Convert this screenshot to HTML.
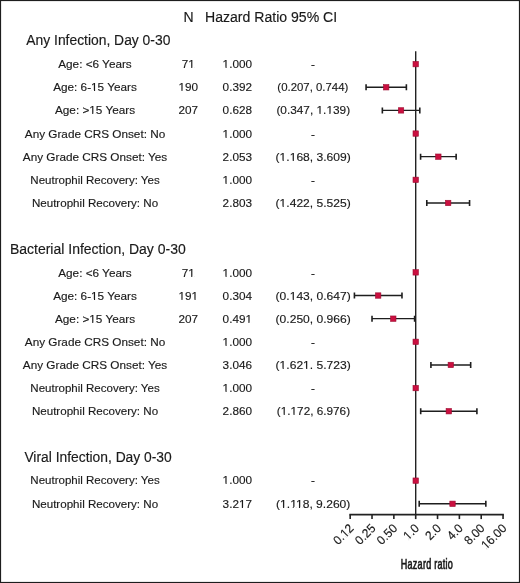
<!DOCTYPE html>
<html><head><meta charset="utf-8"><style>
html,body{margin:0;padding:0;background:#fff;}
body{width:520px;height:583px;position:relative;overflow:hidden;}
svg{will-change:transform;}
svg text{font-family:"Liberation Sans",sans-serif;fill:#1a1a1a;stroke:#1a1a1a;stroke-width:0.15px;}
</style></head><body>

<svg width="520" height="583" viewBox="0 0 520 583" style="position:absolute;left:0;top:0">
<rect x="0.5" y="0.5" width="519" height="582" fill="#fff" stroke="#1e1e1e" stroke-width="1.2"></rect>
<text x="188.60000000000002" y="21.9" font-size="14" text-anchor="middle">N</text>
<text x="205.0" y="21.9" font-size="14" textLength="132.16" lengthAdjust="spacingAndGlyphs">Hazard Ratio 95% CI</text>
<path d="M415.70 51.3V514.6" stroke="#222" stroke-width="1.4" fill="none"></path>
<text x="26.3" y="45.2" font-size="14" textLength="144.07" lengthAdjust="spacingAndGlyphs">Any Infection, Day 0-30</text>
<text x="95" y="68.00" font-size="11.75" text-anchor="middle">Age: &lt;6 Years</text>
<text x="188.3" y="68.00" font-size="11.75" text-anchor="middle">71</text><rect x="192.34" y="66.90" width="2.48" height="1.56" fill="#fff"></rect><rect x="188.52" y="66.90" width="2.68" height="1.56" fill="#fff"></rect>
<text x="237.3" y="68.00" font-size="11.75" text-anchor="middle">1.000</text><rect x="226.64" y="66.90" width="2.48" height="1.56" fill="#fff"></rect><rect x="222.83" y="66.90" width="2.68" height="1.56" fill="#fff"></rect>
<text x="313" y="68.00" font-size="11.75" text-anchor="middle">-</text>
<text x="95" y="91.00" font-size="11.75" text-anchor="middle">Age: 6-15 Years</text><rect x="95.11" y="89.90" width="2.48" height="1.56" fill="#fff"></rect><rect x="91.29" y="89.90" width="2.68" height="1.56" fill="#fff"></rect>
<text x="188.3" y="91.00" font-size="11.75" text-anchor="middle">190</text><rect x="182.54" y="89.90" width="2.48" height="1.56" fill="#fff"></rect><rect x="178.73" y="89.90" width="2.68" height="1.56" fill="#fff"></rect>
<text x="237.3" y="91.00" font-size="11.75" text-anchor="middle">0.392</text>
<text x="312.85" y="91.00" font-size="11.75" text-anchor="middle" textLength="71.02" lengthAdjust="spacingAndGlyphs">(0.207, 0.744)</text>
<path d="M366.07 87.27H406.38" stroke="#1e1e1e" stroke-width="1.35" fill="none"></path>
<path d="M366.07 84.27V90.27M406.38 84.27V90.27" stroke="#1e1e1e" stroke-width="1.6" fill="none"></path>
<text x="95" y="114.00" font-size="11.75" text-anchor="middle">Age: &gt;15 Years</text><rect x="93.32" y="112.90" width="2.48" height="1.56" fill="#fff"></rect><rect x="89.50" y="112.90" width="2.68" height="1.56" fill="#fff"></rect>
<text x="188.3" y="114.00" font-size="11.75" text-anchor="middle">207</text>
<text x="237.3" y="114.00" font-size="11.75" text-anchor="middle">0.628</text>
<text x="313.25" y="114.00" font-size="11.75" text-anchor="middle" textLength="73.67" lengthAdjust="spacingAndGlyphs">(0.347, 1.139)</text><rect x="330.47" y="112.90" width="2.49" height="1.56" fill="#fff"></rect><rect x="326.63" y="112.90" width="2.70" height="1.56" fill="#fff"></rect><rect x="320.60" y="112.90" width="2.49" height="1.56" fill="#fff"></rect><rect x="316.76" y="112.90" width="2.70" height="1.56" fill="#fff"></rect>
<path d="M382.35 110.41H419.80" stroke="#1e1e1e" stroke-width="1.35" fill="none"></path>
<path d="M382.35 107.41V113.41M419.80 107.41V113.41" stroke="#1e1e1e" stroke-width="1.6" fill="none"></path>
<text x="95" y="138.00" font-size="11.75" text-anchor="middle">Any Grade CRS Onset: No</text>
<text x="237.3" y="138.00" font-size="11.75" text-anchor="middle">1.000</text><rect x="226.64" y="136.90" width="2.48" height="1.56" fill="#fff"></rect><rect x="222.83" y="136.90" width="2.68" height="1.56" fill="#fff"></rect>
<text x="313" y="138.00" font-size="11.75" text-anchor="middle">-</text>
<text x="95" y="161.00" font-size="11.75" text-anchor="middle">Any Grade CRS Onset: Yes</text>
<text x="237.3" y="161.00" font-size="11.75" text-anchor="middle">2.053</text>
<text x="313.20" y="161.00" font-size="11.75" text-anchor="middle" textLength="75.20" lengthAdjust="spacingAndGlyphs">(1.168, 3.609)</text><rect x="293.84" y="159.90" width="2.55" height="1.56" fill="#fff"></rect><rect x="289.92" y="159.90" width="2.76" height="1.56" fill="#fff"></rect><rect x="283.77" y="159.90" width="2.55" height="1.56" fill="#fff"></rect><rect x="279.85" y="159.90" width="2.76" height="1.56" fill="#fff"></rect>
<path d="M420.59 156.69H456.14" stroke="#1e1e1e" stroke-width="1.35" fill="none"></path>
<path d="M420.59 153.69V159.69M456.14 153.69V159.69" stroke="#1e1e1e" stroke-width="1.6" fill="none"></path>
<text x="95" y="184.00" font-size="11.75" text-anchor="middle" textLength="129.30" lengthAdjust="spacingAndGlyphs">Neutrophil Recovery: Yes</text>
<text x="237.3" y="184.00" font-size="11.75" text-anchor="middle">1.000</text><rect x="226.64" y="182.90" width="2.48" height="1.56" fill="#fff"></rect><rect x="222.83" y="182.90" width="2.68" height="1.56" fill="#fff"></rect>
<text x="313" y="184.00" font-size="11.75" text-anchor="middle">-</text>
<text x="95" y="207.00" font-size="11.75" text-anchor="middle" textLength="126.21" lengthAdjust="spacingAndGlyphs">Neutrophil Recovery: No</text>
<text x="237.3" y="207.00" font-size="11.75" text-anchor="middle">2.803</text>
<text x="313.20" y="207.00" font-size="11.75" text-anchor="middle" textLength="75.20" lengthAdjust="spacingAndGlyphs">(1.422, 5.525)</text><rect x="283.77" y="205.90" width="2.55" height="1.56" fill="#fff"></rect><rect x="279.85" y="205.90" width="2.76" height="1.56" fill="#fff"></rect>
<path d="M426.79 202.97H469.56" stroke="#1e1e1e" stroke-width="1.35" fill="none"></path>
<path d="M426.79 199.97V205.97M469.56 199.97V205.97" stroke="#1e1e1e" stroke-width="1.6" fill="none"></path>
<text x="9.9" y="253.8" font-size="14" textLength="175.87" lengthAdjust="spacingAndGlyphs">Bacterial Infection, Day 0-30</text>
<text x="95" y="277.00" font-size="11.75" text-anchor="middle">Age: &lt;6 Years</text>
<text x="188.3" y="277.00" font-size="11.75" text-anchor="middle">71</text><rect x="192.34" y="275.90" width="2.48" height="1.56" fill="#fff"></rect><rect x="188.52" y="275.90" width="2.68" height="1.56" fill="#fff"></rect>
<text x="237.3" y="277.00" font-size="11.75" text-anchor="middle">1.000</text><rect x="226.64" y="275.90" width="2.48" height="1.56" fill="#fff"></rect><rect x="222.83" y="275.90" width="2.68" height="1.56" fill="#fff"></rect>
<text x="313" y="277.00" font-size="11.75" text-anchor="middle">-</text>
<text x="95" y="300.00" font-size="11.75" text-anchor="middle">Age: 6-15 Years</text><rect x="95.11" y="298.90" width="2.48" height="1.56" fill="#fff"></rect><rect x="91.29" y="298.90" width="2.68" height="1.56" fill="#fff"></rect>
<text x="188.3" y="300.00" font-size="11.75" text-anchor="middle">191</text><rect x="195.60" y="298.90" width="2.48" height="1.56" fill="#fff"></rect><rect x="191.79" y="298.90" width="2.68" height="1.56" fill="#fff"></rect><rect x="182.54" y="298.90" width="2.48" height="1.56" fill="#fff"></rect><rect x="178.73" y="298.90" width="2.68" height="1.56" fill="#fff"></rect>
<text x="237.3" y="300.00" font-size="11.75" text-anchor="middle">0.304</text>
<text x="313.20" y="300.00" font-size="11.75" text-anchor="middle" textLength="75.20" lengthAdjust="spacingAndGlyphs">(0.143, 0.647)</text><rect x="293.84" y="298.90" width="2.55" height="1.56" fill="#fff"></rect><rect x="289.92" y="298.90" width="2.76" height="1.56" fill="#fff"></rect>
<path d="M354.42 295.53H401.98" stroke="#1e1e1e" stroke-width="1.35" fill="none"></path>
<path d="M354.42 292.53V298.53M401.98 292.53V298.53" stroke="#1e1e1e" stroke-width="1.6" fill="none"></path>
<text x="95" y="323.00" font-size="11.75" text-anchor="middle">Age: &gt;15 Years</text><rect x="93.32" y="321.90" width="2.48" height="1.56" fill="#fff"></rect><rect x="89.50" y="321.90" width="2.68" height="1.56" fill="#fff"></rect>
<text x="188.3" y="323.00" font-size="11.75" text-anchor="middle">207</text>
<text x="237.3" y="323.00" font-size="11.75" text-anchor="middle">0.491</text><rect x="249.50" y="321.90" width="2.48" height="1.56" fill="#fff"></rect><rect x="245.69" y="321.90" width="2.68" height="1.56" fill="#fff"></rect>
<text x="313.20" y="323.00" font-size="11.75" text-anchor="middle" textLength="75.20" lengthAdjust="spacingAndGlyphs">(0.250, 0.966)</text>
<path d="M372.02 318.67H414.61" stroke="#1e1e1e" stroke-width="1.35" fill="none"></path>
<path d="M372.02 315.67V321.67M414.61 315.67V321.67" stroke="#1e1e1e" stroke-width="1.6" fill="none"></path>
<text x="95" y="346.00" font-size="11.75" text-anchor="middle">Any Grade CRS Onset: No</text>
<text x="237.3" y="346.00" font-size="11.75" text-anchor="middle">1.000</text><rect x="226.64" y="344.90" width="2.48" height="1.56" fill="#fff"></rect><rect x="222.83" y="344.90" width="2.68" height="1.56" fill="#fff"></rect>
<text x="313" y="346.00" font-size="11.75" text-anchor="middle">-</text>
<text x="95" y="369.00" font-size="11.75" text-anchor="middle">Any Grade CRS Onset: Yes</text>
<text x="237.3" y="369.00" font-size="11.75" text-anchor="middle">3.046</text>
<text x="313.20" y="369.00" font-size="11.75" text-anchor="middle" textLength="75.20" lengthAdjust="spacingAndGlyphs">(1.621. 5.723)</text><rect x="307.28" y="367.90" width="2.55" height="1.56" fill="#fff"></rect><rect x="303.36" y="367.90" width="2.76" height="1.56" fill="#fff"></rect><rect x="283.77" y="367.90" width="2.55" height="1.56" fill="#fff"></rect><rect x="279.85" y="367.90" width="2.76" height="1.56" fill="#fff"></rect>
<path d="M430.92 364.95H470.67" stroke="#1e1e1e" stroke-width="1.35" fill="none"></path>
<path d="M430.92 361.95V367.95M470.67 361.95V367.95" stroke="#1e1e1e" stroke-width="1.6" fill="none"></path>
<text x="95" y="392.00" font-size="11.75" text-anchor="middle" textLength="129.30" lengthAdjust="spacingAndGlyphs">Neutrophil Recovery: Yes</text>
<text x="237.3" y="392.00" font-size="11.75" text-anchor="middle">1.000</text><rect x="226.64" y="390.90" width="2.48" height="1.56" fill="#fff"></rect><rect x="222.83" y="390.90" width="2.68" height="1.56" fill="#fff"></rect>
<text x="313" y="392.00" font-size="11.75" text-anchor="middle">-</text>
<text x="95" y="415.00" font-size="11.75" text-anchor="middle" textLength="126.21" lengthAdjust="spacingAndGlyphs">Neutrophil Recovery: No</text>
<text x="237.3" y="415.00" font-size="11.75" text-anchor="middle">2.860</text>
<text x="313.45" y="415.00" font-size="11.75" text-anchor="middle" textLength="73.26" lengthAdjust="spacingAndGlyphs">(1.172, 6.976)</text><rect x="294.59" y="413.90" width="2.48" height="1.56" fill="#fff"></rect><rect x="290.77" y="413.90" width="2.69" height="1.56" fill="#fff"></rect><rect x="284.78" y="413.90" width="2.48" height="1.56" fill="#fff"></rect><rect x="280.96" y="413.90" width="2.69" height="1.56" fill="#fff"></rect>
<path d="M420.70 411.23H476.90" stroke="#1e1e1e" stroke-width="1.35" fill="none"></path>
<path d="M420.70 408.23V414.23M476.90 408.23V414.23" stroke="#1e1e1e" stroke-width="1.6" fill="none"></path>
<text x="24.4" y="462" font-size="14" textLength="147.36" lengthAdjust="spacingAndGlyphs">Viral Infection, Day 0-30</text>
<text x="95" y="484.00" font-size="11.75" text-anchor="middle" textLength="129.30" lengthAdjust="spacingAndGlyphs">Neutrophil Recovery: Yes</text>
<text x="237.3" y="484.00" font-size="11.75" text-anchor="middle">1.000</text><rect x="226.64" y="482.90" width="2.48" height="1.56" fill="#fff"></rect><rect x="222.83" y="482.90" width="2.68" height="1.56" fill="#fff"></rect>
<text x="313" y="484.00" font-size="11.75" text-anchor="middle">-</text>
<text x="95" y="508.00" font-size="11.75" text-anchor="middle" textLength="126.21" lengthAdjust="spacingAndGlyphs">Neutrophil Recovery: No</text>
<text x="237.3" y="508.00" font-size="11.75" text-anchor="middle">3.217</text><rect x="242.97" y="506.90" width="2.48" height="1.56" fill="#fff"></rect><rect x="239.15" y="506.90" width="2.68" height="1.56" fill="#fff"></rect>
<text x="313.20" y="508.00" font-size="11.75" text-anchor="middle" textLength="74.30" lengthAdjust="spacingAndGlyphs">(1.118, 9.260)</text><rect x="300.11" y="506.90" width="2.55" height="1.56" fill="#fff"></rect><rect x="296.18" y="506.90" width="2.77" height="1.56" fill="#fff"></rect><rect x="293.74" y="506.90" width="2.21" height="1.56" fill="#fff"></rect><rect x="290.34" y="506.90" width="2.39" height="1.56" fill="#fff"></rect><rect x="284.22" y="506.90" width="2.55" height="1.56" fill="#fff"></rect><rect x="280.30" y="506.90" width="2.76" height="1.56" fill="#fff"></rect>
<path d="M419.21 503.79H485.83" stroke="#1e1e1e" stroke-width="1.35" fill="none"></path>
<path d="M419.21 500.79V506.79M485.83 500.79V506.79" stroke="#1e1e1e" stroke-width="1.6" fill="none"></path>
<path d="M349.38 514.6H503.86" stroke="#222" stroke-width="1.8" fill="none"></path>
<path d="M350.18 514.6V519.1" stroke="#222" stroke-width="1.6" fill="none"></path>
<text transform="translate(354.48,529.1) rotate(-45) scale(0.95,1)" font-size="12.5" text-anchor="end">0.12</text><rect x="-9.61" y="-1.16" width="2.64" height="1.64" fill="#fff" transform="translate(354.48,529.1) rotate(-45) scale(0.95,1)"></rect><rect x="-13.68" y="-1.16" width="2.86" height="1.64" fill="#fff" transform="translate(354.48,529.1) rotate(-45) scale(0.95,1)"></rect>
<path d="M372.02 514.6V519.1" stroke="#222" stroke-width="1.6" fill="none"></path>
<text transform="translate(376.32,529.1) rotate(-45) scale(0.95,1)" font-size="12.5" text-anchor="end">0.25</text>
<path d="M393.86 514.6V519.1" stroke="#222" stroke-width="1.6" fill="none"></path>
<text transform="translate(398.16,529.1) rotate(-45) scale(0.95,1)" font-size="12.5" text-anchor="end">0.50</text>
<path d="M415.70 514.6V519.1" stroke="#222" stroke-width="1.6" fill="none"></path>
<text transform="translate(420.00,529.1) rotate(-45) scale(0.95,1)" font-size="12.5" text-anchor="end">1.0</text><rect x="-13.08" y="-1.16" width="2.63" height="1.64" fill="#fff" transform="translate(420.00,529.1) rotate(-45) scale(0.95,1)"></rect><rect x="-17.14" y="-1.16" width="2.85" height="1.64" fill="#fff" transform="translate(420.00,529.1) rotate(-45) scale(0.95,1)"></rect>
<path d="M437.54 514.6V519.1" stroke="#222" stroke-width="1.6" fill="none"></path>
<text transform="translate(441.84,529.1) rotate(-45) scale(0.95,1)" font-size="12.5" text-anchor="end">2.0</text>
<path d="M459.38 514.6V519.1" stroke="#222" stroke-width="1.6" fill="none"></path>
<text transform="translate(463.68,529.1) rotate(-45) scale(0.95,1)" font-size="12.5" text-anchor="end">4.0</text>
<path d="M481.22 514.6V519.1" stroke="#222" stroke-width="1.6" fill="none"></path>
<text transform="translate(485.52,529.1) rotate(-45) scale(0.95,1)" font-size="12.5" text-anchor="end">8.00</text>
<path d="M503.06 514.6V519.1" stroke="#222" stroke-width="1.6" fill="none"></path>
<text transform="translate(507.36,529.1) rotate(-45) scale(0.95,1)" font-size="12.5" text-anchor="end">16.00</text><rect x="-26.97" y="-1.16" width="2.63" height="1.64" fill="#fff" transform="translate(507.36,529.1) rotate(-45) scale(0.95,1)"></rect><rect x="-31.03" y="-1.16" width="2.85" height="1.64" fill="#fff" transform="translate(507.36,529.1) rotate(-45) scale(0.95,1)"></rect>
<text transform="translate(400.8,569) scale(0.64,1)" font-size="14.1" textLength="81.25" lengthAdjust="spacing" style="stroke:#1a1a1a;stroke-width:0.7px">Hazard ratio</text>
<rect x="413.00" y="61.43" width="5.4" height="5.4" fill="#ca1040" stroke="#9c0c30" stroke-width="0.6"></rect>
<rect x="383.49" y="84.57" width="5.4" height="5.4" fill="#ca1040" stroke="#9c0c30" stroke-width="0.6"></rect>
<rect x="398.34" y="107.71" width="5.4" height="5.4" fill="#ca1040" stroke="#9c0c30" stroke-width="0.6"></rect>
<rect x="413.00" y="130.85" width="5.4" height="5.4" fill="#ca1040" stroke="#9c0c30" stroke-width="0.6"></rect>
<rect x="435.66" y="153.99" width="5.4" height="5.4" fill="#ca1040" stroke="#9c0c30" stroke-width="0.6"></rect>
<rect x="413.00" y="177.13" width="5.4" height="5.4" fill="#ca1040" stroke="#9c0c30" stroke-width="0.6"></rect>
<rect x="445.48" y="200.27" width="5.4" height="5.4" fill="#ca1040" stroke="#9c0c30" stroke-width="0.6"></rect>
<rect x="413.00" y="269.69" width="5.4" height="5.4" fill="#ca1040" stroke="#9c0c30" stroke-width="0.6"></rect>
<rect x="375.48" y="292.83" width="5.4" height="5.4" fill="#ca1040" stroke="#9c0c30" stroke-width="0.6"></rect>
<rect x="390.59" y="315.97" width="5.4" height="5.4" fill="#ca1040" stroke="#9c0c30" stroke-width="0.6"></rect>
<rect x="413.00" y="339.11" width="5.4" height="5.4" fill="#ca1040" stroke="#9c0c30" stroke-width="0.6"></rect>
<rect x="448.10" y="362.25" width="5.4" height="5.4" fill="#ca1040" stroke="#9c0c30" stroke-width="0.6"></rect>
<rect x="413.00" y="385.39" width="5.4" height="5.4" fill="#ca1040" stroke="#9c0c30" stroke-width="0.6"></rect>
<rect x="446.11" y="408.53" width="5.4" height="5.4" fill="#ca1040" stroke="#9c0c30" stroke-width="0.6"></rect>
<rect x="413.00" y="477.95" width="5.4" height="5.4" fill="#ca1040" stroke="#9c0c30" stroke-width="0.6"></rect>
<rect x="449.82" y="501.09" width="5.4" height="5.4" fill="#ca1040" stroke="#9c0c30" stroke-width="0.6"></rect>
</svg>
</body></html>
